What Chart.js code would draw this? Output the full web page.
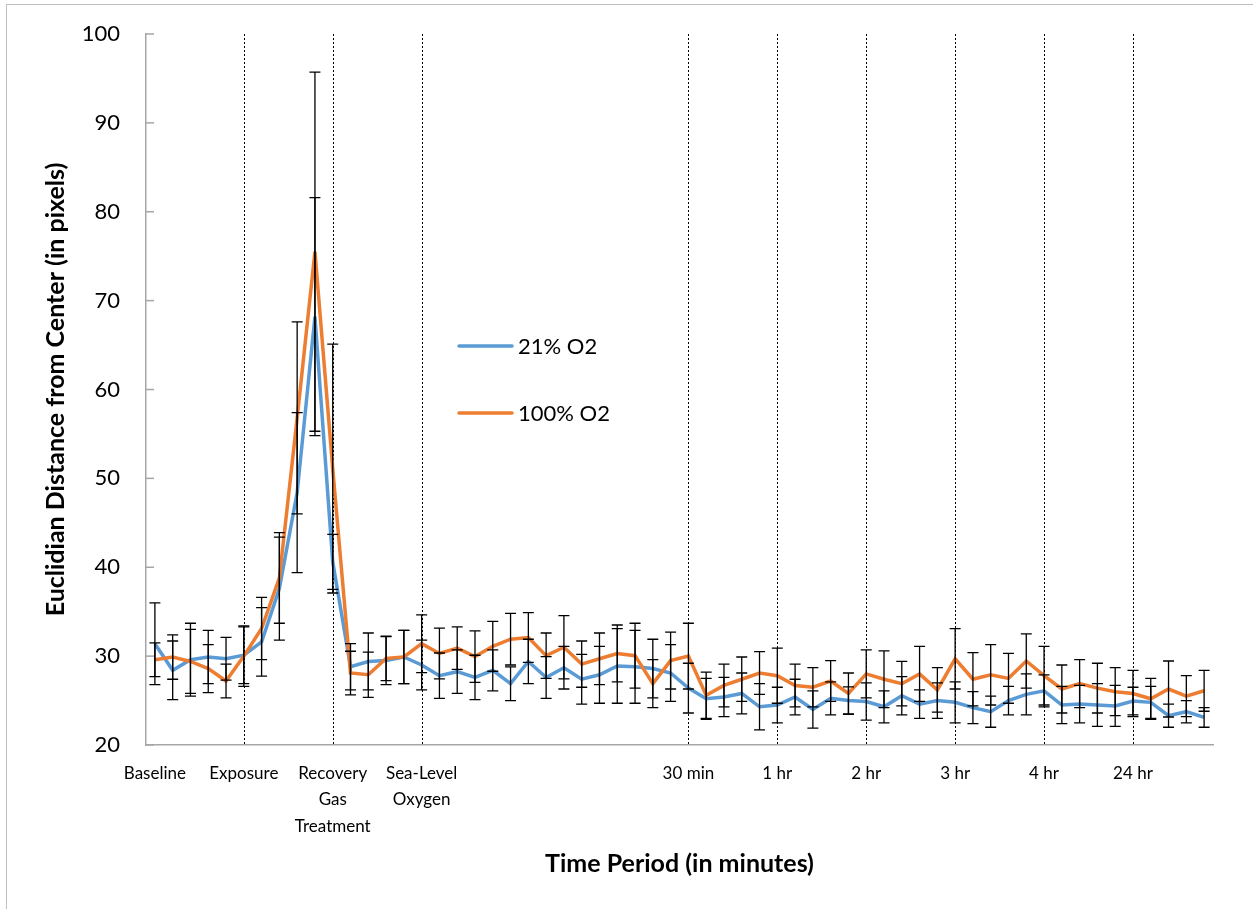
<!DOCTYPE html>
<html>
<head>
<meta charset="utf-8">
<title>Euclidian Distance from Center</title>
<script src="https://cdn.jsdelivr.net/npm/chart.js@4.4.1/dist/chart.umd.min.js"></script>
<style>
    html, body { margin: 0; padding: 0; background: #fff; overflow: hidden; }
    #frame { position: absolute; left: 6px; top: 4px; width: 1400px; height: 1100px; border: 1px solid #bfbfbf; }
    #wrap { position: absolute; left: 0; top: 0; width: 1253px; height: 909px; }
</style>
</head>
<body>
<div id="frame"></div>
<div id="wrap"><canvas id="distanceChart" width="1253" height="909"></canvas></div>
<script>
// Period labels and where they sit on the 60 sample positions
const periodLabels = ['Baseline', 'Exposure', ['Recovery', 'Gas', 'Treatment'], ['Sea-Level', 'Oxygen'],
    '30 min', '1 hr', '2 hr', '3 hr', '4 hr', '24 hr'];
const periodIndex = [0, 5, 10, 15, 30, 35, 40, 45, 50, 55];
const dividerIndex = [5, 10, 15, 30, 35, 40, 45, 50, 55];

const o2Normal = [31.4, 28.4, 29.6, 29.9, 29.7, 30.1, 31.6, 37.6, 48.4, 68.2,
    40.6, 28.8, 29.4, 29.5, 29.9, 29.0, 27.8, 28.25, 27.6, 28.4,
    26.9, 29.4, 27.6, 28.7, 27.4, 27.9, 28.9, 28.8, 28.6, 28.1,
    26.4, 25.2, 25.4, 25.8, 24.3, 24.5, 25.4, 24.0, 25.25, 25.0,
    24.9, 24.3, 25.55, 24.6, 25.0, 24.8, 24.2, 23.75, 25.0, 25.7,
    26.1, 24.5, 24.6, 24.5, 24.4, 24.95, 24.8, 23.3, 23.75, 23.1];
const o2NormalErr = [4.6, 3.3, 4.1, 3.0, 2.4, 3.2, 3.85, 5.8, 9.0, 13.4,
    3.1, 2.6, 3.2, 2.7, 3.0, 2.8, 2.55, 2.45, 2.5, 2.3,
    1.9, 2.5, 2.35, 2.4, 2.8, 3.2, 4.2, 4.1, 3.3, 3.2,
    2.8, 2.3, 2.2, 2.3, 2.6, 2.0, 2.0, 2.1, 1.85, 1.55,
    2.1, 1.8, 2.15, 1.6, 2.0, 2.3, 1.8, 1.75, 1.6, 2.3,
    1.8, 2.1, 2.1, 2.4, 2.3, 1.55, 1.8, 1.3, 1.25, 1.1];

const o2Full = [29.6, 29.9, 29.4, 28.6, 27.2, 30.0, 33.1, 38.8, 56.8, 75.5,
    51.1, 28.1, 27.9, 29.75, 29.9, 31.4, 30.3, 30.9, 29.95, 31.1,
    31.9, 32.1, 30.05, 31.0, 29.1, 29.7, 30.3, 30.05, 26.9, 29.5,
    30.0, 25.6, 26.7, 27.4, 28.1, 27.8, 26.7, 26.5, 27.2, 25.8,
    28.0, 27.4, 26.9, 28.0, 26.2, 29.7, 27.4, 27.9, 27.5, 29.45,
    27.8, 26.3, 26.9, 26.4, 26.0, 25.8, 25.2, 26.3, 25.5, 26.1];
const o2FullErr = [1.9, 2.5, 3.6, 2.7, 1.9, 3.4, 3.5, 5.1, 10.8, 20.2,
    14.0, 2.45, 2.55, 2.5, 3.0, 3.25, 2.85, 2.4, 2.9, 2.8,
    2.9, 2.8, 2.55, 3.55, 2.6, 2.9, 3.2, 3.65, 2.7, 3.2,
    3.7, 2.6, 2.4, 2.5, 2.4, 3.1, 2.4, 2.2, 2.3, 2.3,
    2.7, 3.2, 2.5, 3.1, 2.5, 3.4, 3.0, 3.4, 2.8, 3.05,
    3.3, 2.7, 2.7, 2.8, 2.7, 2.6, 2.3, 3.15, 2.3, 2.3];

const categories = o2Normal.map(() => '');
periodIndex.forEach((idx, k) => { categories[idx] = periodLabels[k]; });

const FONT = 'Lato, "Open Sans", sans-serif';
const AXIS_GREY = '#a6a6a6';

// dotted dividers, inside y ticks, error bars and the floating legend
const overlay = {
    id: 'overlay',
    beforeDatasetsDraw(chart) {
        const { ctx, chartArea, scales: { x, y } } = chart;
        ctx.save();
        ctx.strokeStyle = '#000';
        ctx.lineWidth = 1;
        ctx.setLineDash([2, 2]);
        dividerIndex.forEach(i => {
            const px = Math.round(x.getPixelForValue(i)) + 0.5;
            ctx.beginPath();
            ctx.moveTo(px, chartArea.top);
            ctx.lineTo(px, chartArea.bottom);
            ctx.stroke();
        });
        ctx.setLineDash([]);
        ctx.strokeStyle = AXIS_GREY;
        ctx.lineWidth = 1.5;
        y.ticks.forEach(t => {
            const py = y.getPixelForValue(t.value);
            ctx.beginPath();
            ctx.moveTo(chartArea.left, py);
            ctx.lineTo(chartArea.left + 8, py);
            ctx.stroke();
        });
        ctx.restore();
    },
    afterDatasetsDraw(chart) {
        const { ctx, scales: { x, y } } = chart;
        ctx.save();
        ctx.strokeStyle = '#000';
        ctx.lineWidth = 1.3;
        chart.data.datasets.forEach(ds => {
            ds.data.forEach((v, i) => {
                const e = ds.errors[i];
                const px = x.getPixelForValue(i);
                const top = y.getPixelForValue(v + e);
                const bot = y.getPixelForValue(v - e);
                ctx.beginPath();
                ctx.moveTo(px, top); ctx.lineTo(px, bot);
                ctx.moveTo(px - 5.5, top); ctx.lineTo(px + 5.5, top);
                ctx.moveTo(px - 5.5, bot); ctx.lineTo(px + 5.5, bot);
                ctx.stroke();
            });
        });

        // legend
        const legendY = [346, 413];
        ctx.font = '22px ' + FONT;
        ctx.textBaseline = 'middle';
        ctx.fillStyle = '#000';
        const items = [chart.data.datasets[0], chart.data.datasets[1]];
        items.forEach((ds, k) => {
            ctx.strokeStyle = ds.borderColor;
            ctx.lineWidth = 3.5;
            ctx.lineCap = 'round';
            ctx.beginPath();
            ctx.moveTo(459, legendY[k]);
            ctx.lineTo(512, legendY[k]);
            ctx.stroke();
            ctx.fillText(ds.label, 518, legendY[k] + 1);
        });
        ctx.restore();
    }
};

const ctx = document.getElementById('distanceChart').getContext('2d');

new Chart(ctx, {
    type: 'line',
    data: {
        labels: categories,
        datasets: [
            {
                label: '21% O2',
                data: o2Normal,
                errors: o2NormalErr,
                borderColor: '#5B9BD5',
                borderWidth: 3.5,
                pointRadius: 0,
                tension: 0,
                order: 1
            },
            {
                label: '100% O2',
                data: o2Full,
                errors: o2FullErr,
                borderColor: '#ED7D31',
                borderWidth: 3.5,
                pointRadius: 0,
                tension: 0,
                order: 0
            }
        ]
    },
    options: {
        responsive: false,
        animation: false,
        layout: { padding: { left: 0, right: 40, top: 34, bottom: 0 } },
        plugins: {
            legend: { display: false },
            tooltip: { enabled: false }
        },
        scales: {
            x: {
                offset: true,
                grid: { display: true, drawOnChartArea: false, drawTicks: false },
                border: { display: true, color: AXIS_GREY, width: 1.5 },
                ticks: {
                    autoSkip: false,
                    maxRotation: 0,
                    padding: 16,
                    color: '#000',
                    font: { family: FONT, size: 17, lineHeight: 1.53 }
                },
                title: {
                    display: true,
                    text: 'Time Period (in minutes)',
                    color: '#000',
                    font: { family: FONT, size: 25, weight: 'bold' },
                    padding: { top: 0, bottom: 30 }
                },
                afterFit: scale => { scale.height = 164; }
            },
            y: {
                min: 20,
                max: 100,
                grid: { display: true, drawOnChartArea: false, drawTicks: false },
                border: { display: true, color: AXIS_GREY, width: 1.5 },
                ticks: {
                    stepSize: 10,
                    padding: 26,
                    color: '#000',
                    font: { family: FONT, size: 22 }
                },
                title: {
                    display: true,
                    text: 'Euclidian Distance from Center (in pixels)',
                    color: '#000',
                    font: { family: FONT, size: 25, weight: 'bold' },
                    padding: { top: 41, bottom: 0 }
                },
                afterFit: scale => {
                    scale.width = 146;
                    scale.paddingTop = 14;
                    scale.paddingBottom = 14;
                }
            }
        }
    },
    plugins: [overlay]
});
</script>
</body>
</html>
